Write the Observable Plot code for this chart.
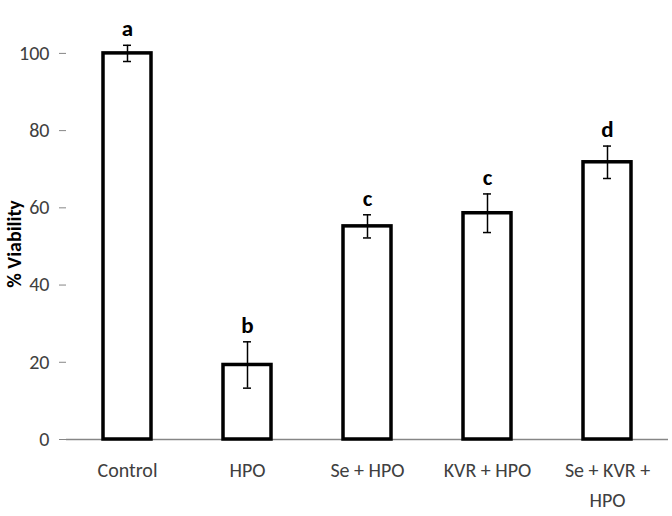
<!DOCTYPE html>
<html><head><meta charset="utf-8">
<script src="https://cdn.jsdelivr.net/npm/d3@7"></script>
<script src="https://cdn.jsdelivr.net/npm/@observablehq/plot@0.6"></script>
<style>body{margin:0;background:#fff;}</style>
</head><body><div id="chart"></div>
<script>
const categories = ["Control", "HPO", "Se + HPO", "KVR + HPO", "Se + KVR + HPO"];
const tickLabels = ["Control", "HPO", "Se + HPO", "KVR + HPO", "Se + KVR +\nHPO"];
const means = [100, 19.3, 55.2, 58.6, 71.8];
const errors = [2.1, 6, 3, 5, 4.2];
const letters = ["a", "b", "c", "c", "d"];
const yTicks = [0, 20, 40, 60, 80, 100];
const yLabel = "% Viability";

const data = categories.map((c, i) => ({group: c, mean: means[i], err: errors[i], letter: letters[i]}));
const font = "Carlito, Calibri, 'Open Sans', sans-serif";

const plot = Plot.plot({
  width: 672, height: 516,
  marginLeft: 66, marginRight: 4, marginTop: 0, marginBottom: 77,
  style: {fontFamily: font, background: "#fff", overflow: "visible"},
  x: {domain: categories, paddingInner: 0.6, paddingOuter: 0.3, label: null},
  y: {domain: [0, 113.7], label: null},
  marks: [
    Plot.axisY({ticks: yTicks, tickSize: 7, tickPadding: 10, stroke: "#868686", fill: "#404040", fontSize: 20, line: true, label: null}),
    Plot.axisX({tickSize: 0, tickPadding: 16, tickFormat: d => tickLabels[categories.indexOf(d)], fontSize: 20, fill: "#404040", lineHeight: 1.5, label: null}),
    Plot.ruleY([0], {stroke: "#868686", strokeWidth: 1.5}),
    Plot.barY(data, {x: "group", y: "mean", fill: "white", stroke: "black", strokeWidth: 3.5}),
    Plot.ruleX(data, {x: "group", y1: d => d.mean - d.err, y2: d => d.mean + d.err, stroke: "black", strokeWidth: 1.5}),
    Plot.tickY(data, {x: "group", y: d => d.mean + d.err, insetLeft: 20, insetRight: 20, stroke: "black", strokeWidth: 1.5}),
    Plot.tickY(data, {x: "group", y: d => d.mean - d.err, insetLeft: 20, insetRight: 20, stroke: "black", strokeWidth: 1.5}),
    Plot.text(data, {x: "group", y: d => d.mean + d.err, text: "letter", dy: -9, lineAnchor: "bottom", fontSize: 23, fontWeight: "bold", fill: "black"}),
    Plot.text([yLabel], {frameAnchor: "left", textAnchor: "middle", rotate: -90, dx: -52, dy: 24, fontWeight: "bold", fontSize: 20, fill: "black"})
  ]
});
document.getElementById("chart").appendChild(plot);
</script>
</body></html>
